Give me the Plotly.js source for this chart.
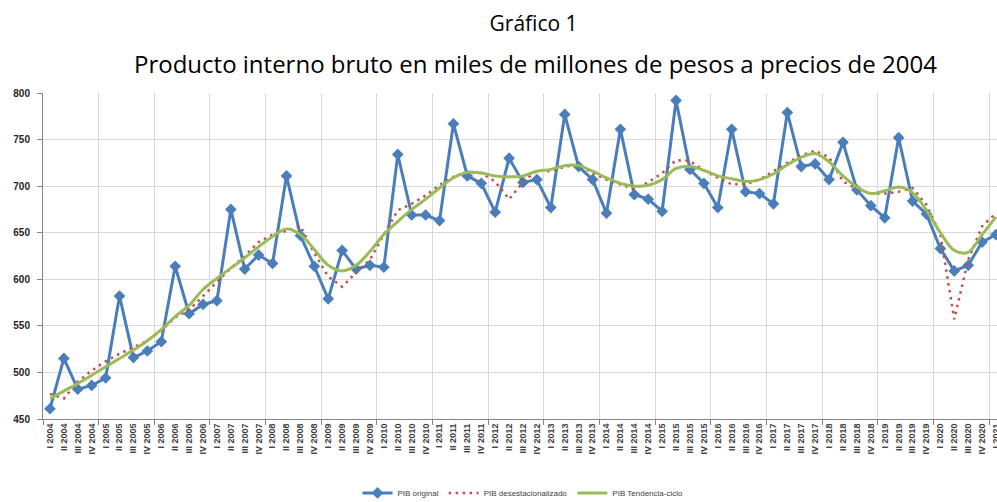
<!DOCTYPE html>
<html>
<head>
<meta charset="utf-8">
<script src="https://cdn.plot.ly/plotly-3.0.1.min.js"></script>
<style>
html,body{margin:0;padding:0;background:#fff;overflow:hidden;width:997px;height:502px;}
#chart{width:1003px;height:502px;}
</style>
</head>
<body>
<div id="chart"></div>
<script>
var years = [2004,2005,2006,2007,2008,2009,2010,2011,2012,2013,2014,2015,2016,2017,2018,2019,2020,2021];
var quarters = ['I','II','III','IV'];
var labels = [];
years.forEach(function(y){ quarters.forEach(function(q){ labels.push(q + ' ' + y); }); });
labels = labels.slice(0, 69);

var pibOriginal = [461,515,482,486,494,582,516,523,533,614,563,573,577,675,611,626,617,711,647,614,579,631,611,615,613,734,669,669,663,767,711,703,672,730,704,707,677,777,721,707,671,761,691,686,673,792,718,703,677,761,694,692,681,779,721,724,707,747,696,679,666,752,684,670,633,609,615,640,648];
var pibDesest = [477,472,490,502,512,520,527,534,545,559,567,582,597,612,625,640,648,652,657,628,603,592,607,621,648,674,681,690,701,710,715,714,705,686,704,717,716,721,723,714,707,702,697,704,714,728,727,717,709,702,702,707,716,725,733,738,731,705,697,692,692,694,698,680,648,557,621,657,671];
var pibTendencia = [472,480,488,497,506,515,524,534,546,560,572,589,601,612,623,635,646,654,648,632,615,609,615,630,648,662,675,686,698,709,715,714,711,710,711,716,718,722,722,716,709,703,700,701,707,719,721,717,711,708,705,707,713,723,731,735,726,711,699,692,695,699,693,674,650,631,629,648,667];

var idx = labels.map(function(_, i){ return i; });

var traces = [
  {x: idx, y: pibOriginal, name: 'PIB original', type: 'scatter', mode: 'lines+markers',
   line: {color: '#4a7ebb', width: 3}, marker: {symbol: 'diamond', size: 9, color: '#4a7ebb'}},
  {x: idx, y: pibDesest, name: 'PIB desestacionalizado', type: 'scatter', mode: 'lines',
   line: {color: '#c0504d', width: 2.5, dash: '2.5px,4.5px'}},
  {x: idx, y: pibTendencia, name: 'PIB Tendencia-ciclo', type: 'scatter', mode: 'lines',
   line: {color: '#9bbb59', width: 3, shape: 'spline'}}
];

var layout = {
  width: 1003, height: 502,
  margin: {l: 43, r: 0, t: 93, b: 83, autoexpand: false},
  paper_bgcolor: '#fff', plot_bgcolor: '#fff',
  showlegend: true,
  title: {text: 'Gráfico 1', x: 0.511, xanchor: 'center', xref: 'paper', y: 0.952, yanchor: 'middle',
          font: {family: 'Open Sans', size: 21, color: '#000'}},
  annotations: [{text: 'Producto interno bruto en miles de millones de pesos a precios de 2004',
    xref: 'paper', yref: 'paper', x: 0.513, y: 1, yshift: 30, xanchor: 'center', yanchor: 'middle',
    showarrow: false, font: {family: 'Open Sans', size: 24, color: '#000'}}],
  xaxis: {
    range: [-0.5, 68.5], tickmode: 'array', tickvals: idx, ticktext: labels, automargin: false,
    tickangle: -90, showgrid: false, zeroline: false, ticks: '',
    showline: true, linecolor: '#868686', linewidth: 1,
    tickfont: {family: 'Liberation Sans', size: 9, color: '#404040', weight: 'bold'},
    minor: {tickmode: 'linear', tick0: 3.5, dtick: 4, showgrid: true, gridcolor: '#d9d9d9', gridwidth: 1,
            ticks: 'outside', ticklen: 5, tickcolor: '#868686'}
  },
  yaxis: {
    range: [450, 800], dtick: 50, showgrid: true, gridcolor: '#d9d9d9', gridwidth: 1, automargin: false,
    zeroline: false, showline: true, linecolor: '#868686', linewidth: 1,
    ticks: 'outside', ticklen: 5, tickcolor: '#868686', ticklabelstandoff: 5,
    tickfont: {family: 'Liberation Sans', size: 10, color: '#262626', weight: 'bold'}
  },
  legend: {orientation: 'h', x: 0.5, xanchor: 'center', yref: 'container', y: 0.018, yanchor: 'middle',
           font: {family: 'Liberation Sans', size: 8, color: '#404040'}, itemwidth: 30}
};

Plotly.newPlot('chart', traces, layout, {displayModeBar: false, responsive: false});
</script>
</body>
</html>
